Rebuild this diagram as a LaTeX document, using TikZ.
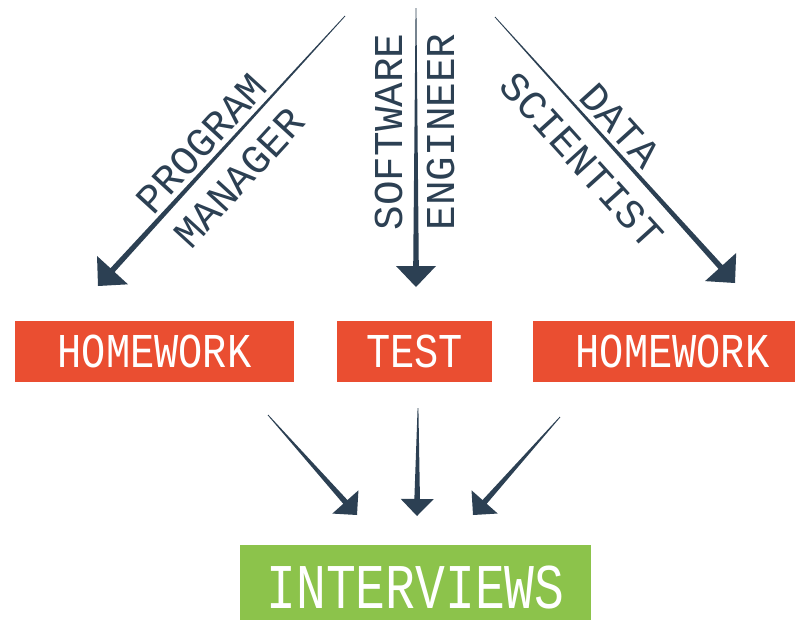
\documentclass[tikz,border=0pt]{standalone}
\usepackage{fontspec}
\usetikzlibrary{calc}
\newfontfamily\lblfont{Liberation Mono}
\newfontfamily\boxfont[FakeStretch=0.83]{Liberation Mono}
\newfontfamily\intfont[FakeStretch=0.78]{Liberation Mono}
\definecolor{arrowc}{HTML}{2C4053}
\definecolor{boxred}{HTML}{EA4E31}
\definecolor{boxgreen}{HTML}{8CC34B}
\tikzset{
  redbox/.style={fill=boxred, text=white, inner sep=0pt, minimum height=61pt,
    font=\boxfont\fontsize{48.6}{50}\selectfont},
  greenbox/.style={fill=boxgreen, text=white, inner sep=0pt, minimum height=85pt,
    minimum width=351pt, font=\intfont\fontsize{63.7}{65}\selectfont},
  lbl/.style={text=arrowc, inner sep=0pt, anchor=base,
    font=\lblfont\fontsize{41}{45}\selectfont},
}
% start, tip, head length, head half width
\newcommand\taperarrow[4]{%
  \coordinate (hb) at ($(#2)!#3!(#1)$);
  \fill[arrowc] ($(#1)!0.4pt!90:(#2)$) -- ($(hb)!2.8pt!90:(#2)$)
    -- ($(hb)!#4!90:(#2)$) -- (#2) -- ($(hb)!#4!-90:(#2)$)
    -- ($(hb)!2.8pt!-90:(#2)$) -- ($(#1)!0.4pt!-90:(#2)$) -- cycle;}
\begin{document}
\begin{tikzpicture}[x=1pt,y=1pt]
\useasboundingbox (0,0) rectangle (795,-619);
% top arrows
\coordinate (pmS) at (345,-16);  \coordinate (pmT) at (98,-286);
\coordinate (swS) at (416,-8);   \coordinate (swT) at (416,-287);
\coordinate (dsS) at (495,-17);  \coordinate (dsT) at (735,-283);
\taperarrow{pmS}{pmT}{21.5pt}{21pt}
\taperarrow{swS}{swT}{21pt}{20pt}
\taperarrow{dsS}{dsT}{21.5pt}{21pt}
% labels
\coordinate (pmP) at ($(pmT)!0.478!(pmS)$);
\node[lbl, rotate=47.5] (pm1) at ($(pmP)!6.5pt!90:(pmS)$) {PROGRAM};
\node[lbl, rotate=47.5] (pm2) at ($(pmP)!45pt!-90:(pmS)$) {MANAGER};
\coordinate (swP) at ($(swT)!0.556!(swS)$);
\node[lbl, rotate=90] (sw1) at ($(swP)!14pt!90:(swS)$) {SOFTWARE};
\node[lbl, rotate=90] (sw2) at ($(swP)!38.5pt!-90:(swS)$) {ENGINEER};
\coordinate (dsP) at ($(dsS)!0.459!(dsT)$);
\node[lbl, rotate=-47.9] (ds1) at ($(dsP)!6.5pt!90:(dsT)$) {DATA};
\node[lbl, rotate=-47.9] (ds2) at ($(dsP)!45pt!-90:(dsT)$) {SCIENTIST};
% boxes
\node[redbox, minimum width=279pt] (hw1) at (154.5,-351.5) {HOMEWORK};
\node[redbox, minimum width=155pt] (test) at (414.5,-351.5) {TEST};
\node[redbox, minimum width=279pt] (hw2) at (672.5,-351.5) {HOMEWORK};
\node[greenbox] (int) at (415.5,-587.5) {INTERVIEWS};
% bottom arrows
\coordinate (b1S) at (268,-415); \coordinate (b1T) at (357,-515);
\coordinate (b2S) at (418,-408); \coordinate (b2T) at (417,-516);
\coordinate (b3S) at (560,-417); \coordinate (b3T) at (473,-515);
\taperarrow{b1S}{b1T}{17.5pt}{17.5pt}
\taperarrow{b2S}{b2T}{17pt}{16.5pt}
\taperarrow{b3S}{b3T}{17.5pt}{17.5pt}
\end{tikzpicture}
\end{document}
